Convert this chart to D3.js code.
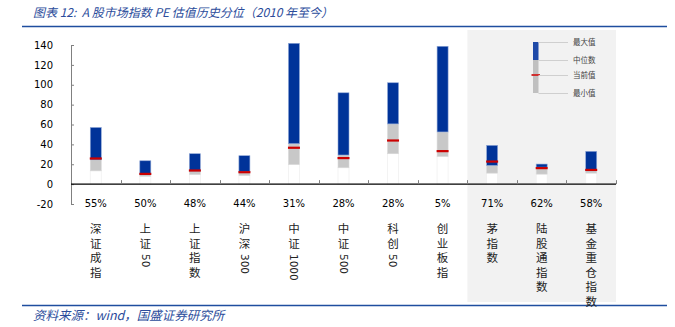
<!DOCTYPE html>
<html><head><meta charset="utf-8">
<script src="https://cdn.jsdelivr.net/npm/d3@7/dist/d3.min.js"></script>
<style>
body{margin:0;background:#fff;}
svg{display:block;}
</style></head>
<body>
<svg id="c" width="675" height="327"></svg>
<script>
const categories = ["深证成指","上证50","上证指数","沪深300","中证1000","中证500","科创50","创业板指","茅指数","陆股通指数","基金重仓指数"];
const maxVals    = [57, 23.5, 30.6, 28.6, 141.7, 91.9, 102, 138.7, 39, 20.2, 33];
const medianVals = [24.5, 10, 13.2, 12.4, 40.7, 29.3, 60.6, 52.5, 18.8, 17.1, 13.4];
const currentVals= [25.9, 10.4, 13.8, 12.1, 36.7, 26.3, 44, 33.3, 22.8, 16.2, 14.4];
const minVals    = [13.4, 8, 9.7, 8.7, 19.8, 16.5, 30.6, 27.9, 11.1, 10.1, 11.1];
const percentiles= ["55%","50%","48%","44%","31%","28%","28%","5%","71%","62%","58%"];
const yTicks     = [-20,0,20,40,60,80,100,120,140];
const shadedCats = ["茅指数","陆股通指数","基金重仓指数"];
const legendLabels = ["最大值","中位数","当前值","最小值"];

const svg = d3.select("#c");
const blue = "#003399", gray = "#c8c8c8", red = "#cc0000", textBlue = "#2b4c9b";
const cjk = "'Noto Sans CJK SC','Noto Sans',sans-serif";
const latin = "'DejaVu Sans',sans-serif";
const nb = s => s.replace(/ /g, "\u00a0");

const x = d3.scaleBand().domain(categories).range([71, 616]).padding(0);
const y = d3.scaleLinear().domain([-20, 140]).range([204, 45]);
const barW = 11;

// shaded background for the last group
const sx0 = x(shadedCats[0]), sx1 = x(shadedCats[shadedCats.length-1]) + x.bandwidth();
svg.append("rect").attr("x", sx0).attr("y", 30).attr("width", sx1 - sx0).attr("height", 272).attr("fill", "#f2f2f2");

// title
svg.append("text").attr("x", 33).attr("y", 17).attr("fill", textBlue)
  .attr("font-family", cjk).attr("font-size", 12).attr("font-style", "italic")
  .text(nb("图表 12:  A 股市场指数 PE 估值历史分位（2010 年至今）"));
svg.append("line").attr("x1", 22).attr("x2", 667).attr("y1", 26.5).attr("y2", 26.5).attr("stroke", "#1f4e9f").attr("stroke-width", 1.5);

// footer
svg.append("line").attr("x1", 22).attr("x2", 667).attr("y1", 305.5).attr("y2", 305.5).attr("stroke", "#1f4e9f").attr("stroke-width", 1.5);
svg.append("text").attr("x", 33).attr("y", 320).attr("fill", textBlue)
  .attr("font-family", cjk).attr("font-size", 12.5).attr("font-style", "italic")
  .text(nb("资料来源：wind，国盛证券研究所"));

// y axis
const yAxis = d3.axisLeft(y).tickValues(yTicks).tickSize(-3).tickPadding(18).tickFormat(d => String(d));
const ya = svg.append("g").attr("transform", "translate(71,0)").call(yAxis);
ya.select(".domain").attr("stroke", "#808080");
ya.selectAll(".tick line").attr("stroke", "#808080");
ya.selectAll(".tick text").attr("font-family", latin).attr("font-size", 10).attr("fill", "#000").attr("x", -18).attr("text-anchor", "end");

// bars
const g = svg.append("g");
categories.forEach((c, i) => {
  const cx = x(c) + x.bandwidth() / 2;
  const bx = cx - barW / 2;
  g.append("rect").attr("x", bx).attr("width", barW)
    .attr("y", y(minVals[i])).attr("height", y(0) - y(minVals[i]))
    .attr("fill", "#fff").attr("stroke", "#f0f0f0").attr("stroke-width", 0.8);
  g.append("rect").attr("x", bx).attr("width", barW)
    .attr("y", y(medianVals[i])).attr("height", y(minVals[i]) - y(medianVals[i]))
    .attr("fill", gray).attr("stroke", "#d9d9d9").attr("stroke-width", 0.6);
  g.append("rect").attr("x", bx).attr("width", barW)
    .attr("y", y(maxVals[i])).attr("height", y(medianVals[i]) - y(maxVals[i]))
    .attr("fill", blue).attr("stroke", "#8ea6d6").attr("stroke-width", 0.6);
  g.append("rect").attr("x", bx - 0.5).attr("width", barW + 1)
    .attr("y", y(currentVals[i]) - 1).attr("height", 2.2).attr("fill", red);
});

// zero line and ticks
svg.append("line").attr("x1", 71).attr("x2", 616).attr("y1", y(0)).attr("y2", y(0)).attr("stroke", "#000").attr("stroke-width", 1.2);
categories.forEach((c) => {
  const tx = Math.round(x(c) + x.bandwidth()) + 0.5;
  svg.append("line").attr("x1", tx).attr("x2", tx).attr("y1", y(0)).attr("y2", y(0) - 4).attr("stroke", "#808080");
});

// percentile labels
svg.append("g").selectAll("text").data(categories).join("text")
  .attr("x", d => x(d) + x.bandwidth() / 2).attr("y", 207)
  .attr("text-anchor", "middle").attr("font-family", latin).attr("font-size", 10)
  .text((d, i) => percentiles[i]);

// category labels (vertical: CJK upright, digit runs rotated)
const lab = svg.append("g");
categories.forEach((c) => {
  const cx = x(c) + x.bandwidth() / 2;
  const tokens = c.match(/[0-9]+|[^0-9]/g);
  let cur = 223;
  tokens.forEach(tok => {
    if (/^[0-9]+$/.test(tok)) {
      const t = lab.append("text")
        .attr("font-family", latin).attr("font-size", 10.5).attr("fill", "#222")
        .attr("transform", `translate(${cx - 3.8},${cur + 2}) rotate(90)`)
        .text(tok);
      const len = t.node().getComputedTextLength();
      cur += len + 4;
    } else {
      lab.append("text").attr("x", cx).attr("y", cur + 10)
        .attr("text-anchor", "middle")
        .attr("font-family", cjk).attr("font-size", 11.5).attr("fill", "#222")
        .text(tok);
      cur += 14.5;
    }
  });
});

// legend
const lg = svg.append("g");
const lx = 533, lw = 5.5;
const ly = [42, 60, 75, 93];
lg.append("rect").attr("x", lx).attr("y", ly[0]).attr("width", lw).attr("height", ly[1] - ly[0]).attr("fill", "#1f4aa8");
lg.append("rect").attr("x", lx).attr("y", ly[1]).attr("width", lw).attr("height", ly[3] - ly[1]).attr("fill", "#c0c0c0");
lg.append("rect").attr("x", lx - 1.5).attr("y", ly[2] - 1).attr("width", lw + 3).attr("height", 2).attr("fill", "#d03030");
ly.forEach((yy, i) => {
  lg.append("line").attr("x1", lx + lw).attr("x2", 568).attr("y1", yy + 0.5).attr("y2", yy + 0.5).attr("stroke", "#cfcfcf");
  lg.append("text").attr("x", 573).attr("y", yy + 3).attr("font-family", cjk).attr("font-size", 7.5).attr("fill", "#444")
    .text(legendLabels[i]);
});
</script>
</body></html>
